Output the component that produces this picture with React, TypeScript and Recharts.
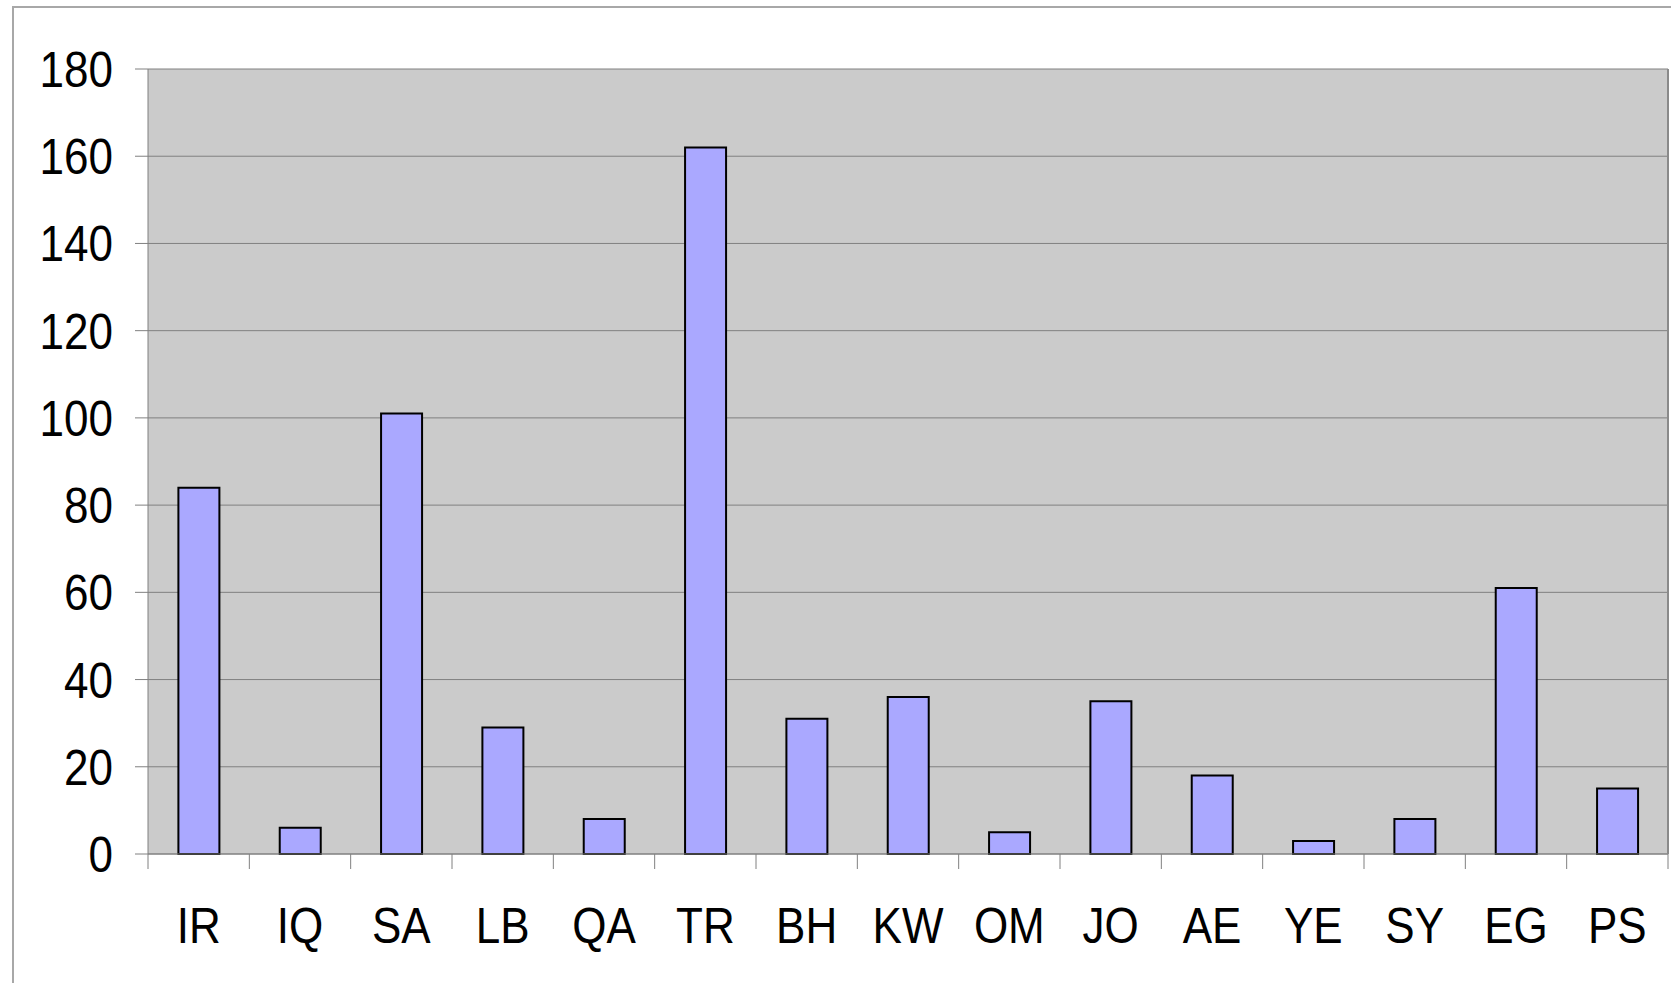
import React from 'react';
import { BarChart, Bar, XAxis, YAxis, CartesianGrid } from 'recharts';

const categories = ['IR', 'IQ', 'SA', 'LB', 'QA', 'TR', 'BH', 'KW', 'OM', 'JO', 'AE', 'YE', 'SY', 'EG', 'PS'];
const counts = [84, 6, 101, 29, 8, 162, 31, 36, 5, 35, 18, 3, 8, 61, 15];
const yTicks = [0, 20, 40, 60, 80, 100, 120, 140, 160, 180];

const data = categories.map((c, i) => ({ country: c, value: counts[i] }));

const FONT = '"Liberation Sans", Arial, sans-serif';
const X_TICK_MARGIN = 53;
const X_TICK_LEN = 15;

const YTick = (props: any) => {
    const { x, y, payload } = props;
    return (
        <g transform={`translate(${x},${y}) scale(0.88,1)`}>
            <text x={0} y={0} dy="0.36em" textAnchor="end" fontSize={50} fontFamily={FONT} fill="#000">
                {payload.value}
            </text>
        </g>
    );
};

// category label plus the tick marks that sit on the category boundaries
const XTick = (props: any) => {
    const { x, y, payload, width, visibleTicksCount, index } = props;
    const half = width / visibleTicksCount / 2;
    const axisY = y - X_TICK_MARGIN;
    return (
        <g>
            <line x1={x - half} x2={x - half} y1={axisY} y2={axisY + X_TICK_LEN} stroke="#808080" />
            {index === visibleTicksCount - 1 && (
                <line x1={x + half} x2={x + half} y1={axisY} y2={axisY + X_TICK_LEN} stroke="#808080" />
            )}
            <g transform={`translate(${x},${y}) scale(0.88,1)`}>
                <text x={0} y={0} dy="0.716em" textAnchor="middle" fontSize={50} fontFamily={FONT} fill="#000">
                    {payload.value}
                </text>
            </g>
        </g>
    );
};

export default function App() {
    return (
        <div style={{ position: 'absolute', left: 0, top: 0, width: 1671, height: 983, background: '#fff' }}>
            <div
                style={{
                    position: 'absolute',
                    left: 12,
                    top: 6,
                    right: -4,
                    bottom: -4,
                    borderLeft: '2px solid #a8a8a8',
                    borderTop: '2px solid #a8a8a8',
                }}
            />
            <div style={{ position: 'absolute', left: 0, top: 0 }}>
                <BarChart
                    width={1671}
                    height={983}
                    data={data}
                    barCategoryGap="30%"
                    margin={{ top: 69, right: 0, left: 0, bottom: 0 }}
                >
                    <CartesianGrid
                        vertical={false}
                        stroke="#808080"
                        strokeWidth={1}
                        fill="#cbcbcb"
                        fillOpacity={1}
                        yAxisId="left"
                    />
                    <XAxis
                        dataKey="country"
                        height={129}
                        axisLine={{ stroke: '#808080', strokeWidth: 1 }}
                        tickLine={false}
                        tickSize={0}
                        tickMargin={X_TICK_MARGIN}
                        interval={0}
                        tick={<XTick />}
                    />
                    <YAxis
                        yAxisId="left"
                        width={148}
                        domain={[0, 180]}
                        ticks={yTicks}
                        interval={0}
                        tickSize={13}
                        tickMargin={22}
                        axisLine={{ stroke: '#808080', strokeWidth: 1 }}
                        tickLine={{ stroke: '#808080', strokeWidth: 1 }}
                        tick={<YTick />}
                    />
                    <YAxis
                        yAxisId="right"
                        orientation="right"
                        width={3}
                        domain={[0, 180]}
                        tick={false}
                        tickLine={false}
                        axisLine={{ stroke: '#8a8a8a', strokeWidth: 2 }}
                    />
                    <Bar
                        yAxisId="left"
                        dataKey="value"
                        fill="#aaa8ff"
                        stroke="#000"
                        strokeWidth={2}
                        isAnimationActive={false}
                    />
                </BarChart>
            </div>
        </div>
    );
}
